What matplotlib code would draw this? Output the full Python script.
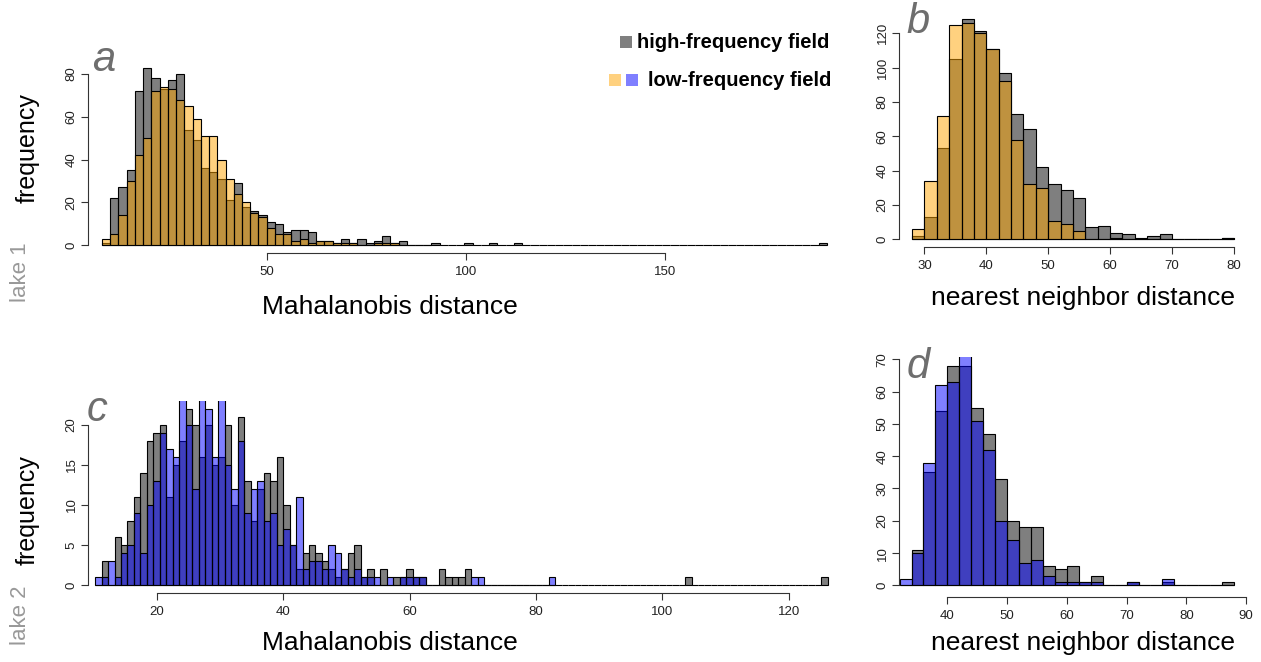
import numpy as np
import matplotlib
matplotlib.use('Agg')
import matplotlib.pyplot as plt
from matplotlib.patches import Rectangle

plt.rcParams['font.family'] = ['Liberation Sans', 'DejaVu Sans']

# ---- data (counts per bin) ----
# a: lake 1, Mahalanobis distance
a_start, a_width = 8.54, 2.07
a_high = [1, 22, 27, 35, 72, 83, 78, 73, 77, 80,
          54, 49, 36, 34, 31, 21, 29, 18, 16, 14,
          11, 10, 6, 7, 7, 6, 2, 2, 1, 3,
          1, 3, 1, 2, 4, 1, 2, 0, 0, 0,
          1, 0, 0, 0, 1, 0, 0, 1, 0, 0,
          1, 0, 0, 0, 0, 0, 0, 0, 0, 0,
          0, 0, 0, 0, 0, 0, 0, 0, 0, 0,
          0, 0, 0, 0, 0, 0, 0, 0, 0, 0,
          0, 0, 0, 0, 0, 0, 0, 1]
a_low = [3, 5, 14, 30, 42, 50, 72, 74, 73, 68,
         65, 59, 51, 51, 40, 31, 24, 20, 15, 13,
         8, 5, 5, 2, 3, 1, 2, 2, 1, 1,
         1, 0, 0, 1, 1, 1, 0, 0, 0, 0]

# b: lake 1, nearest neighbor distance
b_start, b_width = 28, 2
b_high = [2, 13, 53, 105, 128, 121, 111, 97, 73, 64, 42, 32, 29,
          24, 7, 8, 4, 3, 1, 2, 3, 0, 0, 0, 0, 1]
b_low = [6, 34, 72, 125, 126, 120, 111, 92, 58, 32, 30, 11, 9,
         5, 0, 0, 1, 0, 0, 0, 0, 0, 0, 0, 0, 1]

# c: lake 2, Mahalanobis distance
c_start, c_width = 10.2, 1.026
c_high = [0, 3, 0, 6, 5, 8, 11, 14, 18, 19,
          20, 11, 15, 18, 22, 20, 16, 20, 15, 16,
          20, 10, 21, 13, 8, 12, 14, 13, 16, 10,
          5, 2, 4, 5, 4, 3, 2, 1, 2, 4,
          5, 1, 2, 0, 2, 0, 1, 1, 2, 1,
          1, 0, 0, 2, 1, 1, 1, 2, 0, 0,
          0, 0, 0, 0, 0, 0, 0, 0, 0, 0,
          0, 0, 0, 0, 0, 0, 0, 0, 0, 0,
          0, 0, 0, 0, 0, 0, 0, 0, 0, 0,
          0, 1, 0, 0, 0, 0, 0, 0, 0, 0,
          0, 0, 0, 0, 0, 0, 0, 0, 0, 0,
          0, 0, 1]
c_low = [1, 1, 3, 1, 4, 5, 9, 4, 10, 13,
         19, 17, 16, 24, 20, 12, 24, 22, 16, 24,
         15, 12, 18, 9, 12, 13, 8, 9, 5, 7,
         5, 11, 2, 3, 3, 2, 5, 4, 2, 1,
         2, 1, 1, 1, 0, 1, 0, 1, 1, 1,
         1, 0, 0, 0, 0, 0, 0, 0, 1, 1,
         0, 0, 0, 0, 0, 0, 0, 0, 0, 0,
         1]

# d: lake 2, nearest neighbor distance
d_start, d_width = 32, 2
d_high = [0, 11, 35, 54, 68, 68, 55, 47, 33, 20, 18, 18, 6, 5,
          6, 1, 3, 0, 0, 1, 0, 0, 1, 0, 0, 0, 0, 1]
d_low = [2, 10, 38, 62, 63, 72, 51, 42, 20, 14, 7, 8, 3, 1,
         1, 1, 1, 0, 0, 1, 0, 0, 2, 0, 0, 0, 0, 0]

# ---- styling ----
W, H = 1261, 662
GRAY = (0, 0, 0, 0.5)
ORANGE = (1, 0.647, 0, 0.5)
BLUE = (0, 0, 1, 0.5)
AXCOL = '#333333'
LETTER = '#6e6e6e'

fig = plt.figure(figsize=(W / 100, H / 100), dpi=100)


def px_axes(left, top, right, bottom):
    return fig.add_axes([left / W, 1 - bottom / H, (right - left) / W, (bottom - top) / H])


def panel(box, xlim, ylim, start, width, high, low, col, xticks, yticks):
    ax = px_axes(*box)
    ax.set_facecolor('none')
    e_high = start + width * np.arange(len(high))
    e_low = start + width * np.arange(len(low))
    ax.bar(e_high, high, width=width, align='edge', color=GRAY,
           edgecolor='black', linewidth=0.8)
    ax.bar(e_low, low, width=width, align='edge', color=col,
           edgecolor='black', linewidth=0.8)
    ax.set_xlim(*xlim)
    ax.set_ylim(*ylim)
    for s in ['top', 'right']:
        ax.spines[s].set_visible(False)
    ax.spines['left'].set_bounds(yticks[0], yticks[-1])
    ax.spines['bottom'].set_bounds(xticks[0], xticks[-1])
    for s in ['left', 'bottom']:
        ax.spines[s].set_color(AXCOL)
        ax.spines[s].set_linewidth(0.8)
    ax.set_xticks(xticks)
    ax.set_yticks(yticks)
    ax.tick_params(length=5, width=0.8, color=AXCOL, labelcolor='#222222',
                   labelsize=9.5)
    ax.tick_params(axis='x', pad=4.5)
    ax.tick_params(axis='y', pad=2.5)
    for lab in ax.get_yticklabels():
        lab.set_rotation(90)
        lab.set_va('center')
    return ax


panel((88, 45, 840, 253), (5.03, 194.0), (-3.74, 93.6), a_start, a_width,
      a_high, a_low, ORANGE, [50, 100, 150], [0, 20, 40, 60, 80])
panel((899, 15, 1250, 247), (25.9, 82.6), (-4.4, 130.6), b_start, b_width,
      b_high, b_low, ORANGE, [30, 40, 50, 60, 70, 80], [0, 20, 40, 60, 80, 100, 120])
panel((88, 401, 835, 593), (9.08, 127.3), (-1.0, 23.0), c_start, c_width,
      c_high, c_low, BLUE, [20, 40, 60, 80, 100, 120], [0, 5, 10, 15, 20])
panel((899, 357, 1255, 597), (31.9, 91.5), (-3.6, 70.7), d_start, d_width,
      d_high, d_low, BLUE, [40, 50, 60, 70, 80, 90], [0, 10, 20, 30, 40, 50, 60, 70])


def ftext(x, y, s, **kw):
    fig.text(x / W, 1 - y / H, s, ha='center', va='center', **kw)


# axis titles
ftext(390, 307, 'Mahalanobis distance', fontsize=19)
ftext(390, 643, 'Mahalanobis distance', fontsize=19)
ftext(1083, 298, 'nearest neighbor distance', fontsize=19)
ftext(1083, 643, 'nearest neighbor distance', fontsize=19)
ftext(28, 148, 'frequency', fontsize=18, rotation=90)
ftext(28, 510, 'frequency', fontsize=18, rotation=90)
ftext(20, 272, 'lake 1', fontsize=16, rotation=90, color='#999999')
ftext(20, 615, 'lake 2', fontsize=16, rotation=90, color='#999999')

# panel letters
for x, y, s in [(104, 60, 'a'), (918, 22, 'b'), (97, 410, 'c'), (918, 367, 'd')]:
    ftext(x, y, s, fontsize=30, style='italic', color=LETTER)

# legend
fig.text(637 / W, 1 - 42 / H, 'high-frequency field', ha='left', va='center',
         fontsize=14.5, fontweight='bold')
fig.text(648 / W, 1 - 80 / H, 'low-frequency field', ha='left', va='center',
         fontsize=14.5, fontweight='bold')
for x, y, c in [(620, 42, GRAY), (609, 80, ORANGE), (626, 80, BLUE)]:
    fig.patches.append(Rectangle(((x) / W, 1 - (y + 6) / H), 12 / W, 12 / H,
                                 transform=fig.transFigure, facecolor=c,
                                 edgecolor='none'))

fig.savefig('out.png', dpi=100)
